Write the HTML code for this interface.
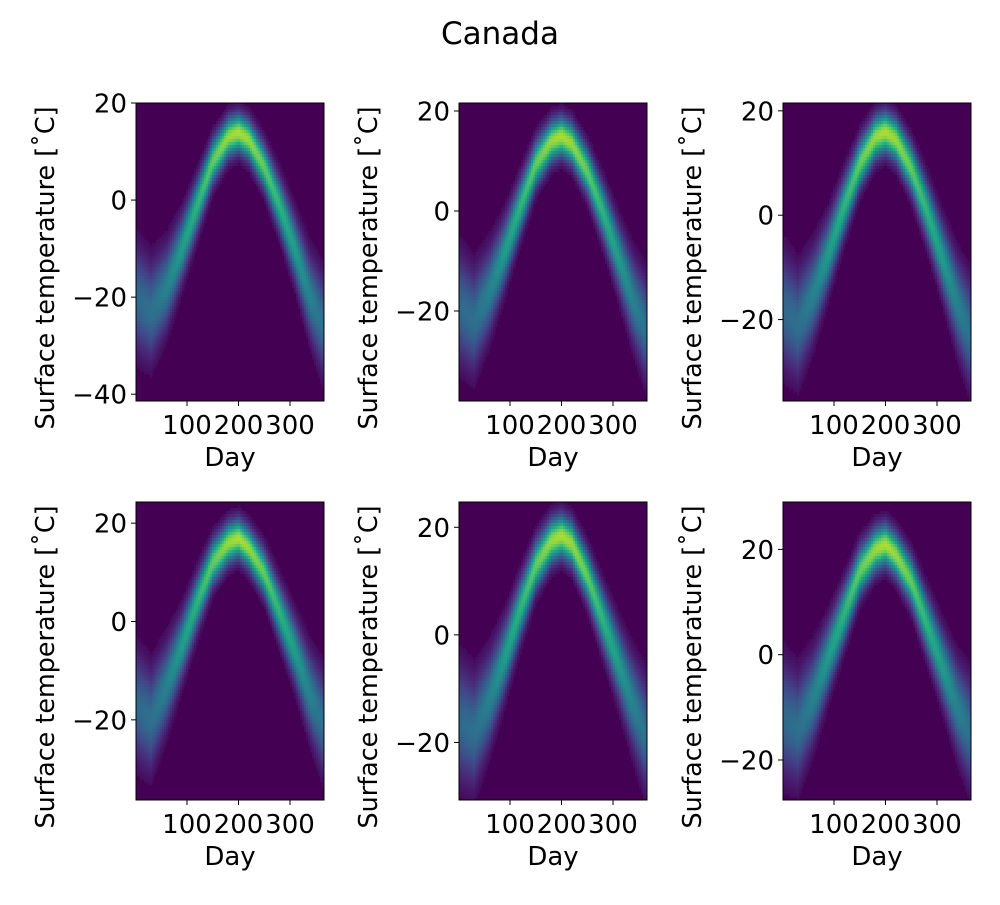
<!DOCTYPE html>
<html><head><meta charset="utf-8"><style>
body{margin:0;background:#fff;}
svg text{font-family:"DejaVu Sans","Liberation Sans",sans-serif;fill:#000;}
</style></head><body>
<svg id="fig" width="1000" height="900" xmlns="http://www.w3.org/2000/svg">
<rect width="1000" height="900" fill="#fff"/>
<text x="500" y="44" font-size="31" text-anchor="middle">Canada</text>
</svg>
<script>
// Shared data
const knotDays = [1, 30, 60, 90, 120, 150, 180, 200, 220, 250, 280, 310, 340, 366];
const spread = [6.5, 6, 5, 4, 3.4, 2.9, 2.6, 2.5, 2.6, 2.9, 3.4, 4, 5, 6];
const center1 = [-20, -23, -18, -10, -1, 8, 13, 14, 12.5, 7, -1, -10, -20, -26];
const center2 = [-19, -22, -16, -8, 1, 9.5, 14, 15, 13.5, 8, 0, -9, -18, -24];
const center3 = [-18, -21, -15, -7, 2, 10, 15, 16, 14.5, 9, 1, -8, -17, -23];
const center4 = [-17, -20, -13, -5, 4, 12, 16, 17, 15, 10, 2, -6, -15, -21];
const center5 = [-16, -18, -12, -4, 5, 13, 17.5, 18.5, 17, 11, 3, -5, -13, -19];
const center6 = [-12, -14, -8, 0, 8, 16, 20, 21, 19, 14, 6, -2, -10, -15];
const yTicks1 = [20, 0, -20, -40];
const yTicks2 = [20, 0, -20];
const xTicks = [100, 200, 300];
const panels = [
 {c:center1, x0:136, y0:103, ymin:-41.4, ymax:20, ticks:yTicks1},
 {c:center2, x0:459, y0:103, ymin:-38, ymax:21.6, ticks:yTicks2},
 {c:center3, x0:783, y0:103, ymin:-35.6, ymax:21.5, ticks:yTicks2},
 {c:center4, x0:136, y0:502, ymin:-36.3, ymax:24.3, ticks:yTicks2},
 {c:center5, x0:459, y0:502, ymin:-30.7, ymax:24.7, ticks:yTicks2},
 {c:center6, x0:783, y0:502, ymin:-27.6, ymax:29, ticks:yTicks2}
];
const W = 188, H = 298, XMIN = 1, XMAX = 366, NX = 94, NY = 100;
const vir = [[68,1,84],[72,36,117],[65,68,135],[53,95,141],[42,120,142],[33,145,140],[34,168,132],[68,191,112],[122,209,81],[189,223,38],[253,231,37]];
function viridis(t){t=Math.max(0,Math.min(1,t));const f=t*10,i=Math.min(9,Math.floor(f)),r=f-i;
 const a=vir[i],b=vir[i+1];return `rgb(${Math.round(a[0]+(b[0]-a[0])*r)},${Math.round(a[1]+(b[1]-a[1])*r)},${Math.round(a[2]+(b[2]-a[2])*r)})`;}
function interp(arr,d){for(let k=0;k<knotDays.length-1;k++){if(d<=knotDays[k+1]){const r=(d-knotDays[k])/(knotDays[k+1]-knotDays[k]);return arr[k]+(arr[k+1]-arr[k])*r;}}return arr[arr.length-1];}
const NS="http://www.w3.org/2000/svg";
const fig=document.getElementById('fig');
function mk(tag,attrs,parent){const e=document.createElementNS(NS,tag);for(const k in attrs)e.setAttribute(k,attrs[k]);parent.appendChild(e);return e;}
panels.forEach((p,pi)=>{
 const g=mk('g',{},fig);
 
 
 const xs=d=>p.x0+(d-XMIN)/(XMAX-XMIN)*W;
 const ys=v=>p.y0+(p.ymax-v)/(p.ymax-p.ymin)*H;
 const bg=mk('rect',{x:p.x0,y:p.y0,width:W,height:H,fill:'#440154'},g);
 
 
 const cells=mk('g',{'shape-rendering':'crispEdges'},g);
 
 
 const dx=(XMAX-XMIN)/NX, dy=(p.ymax-p.ymin)/NY;
 for(let i=0;i<NX;i++){
  const d=XMIN+(i+0.5)*dx, c=interp(p.c,d), s=interp(spread,d);
  const amp=2.2/s;
  for(let j=0;j<NY;j++){
   const v=p.ymin+(j+0.5)*dy, z=(v-c)/s;
   const val=amp*Math.exp(-0.5*z*z);
   if(val<0.03)continue;
   const r=mk('rect',{x:xs(XMIN+i*dx).toFixed(2),y:ys(p.ymin+(j+1)*dy).toFixed(2),width:(W/NX+0.3).toFixed(2),height:(H/NY+0.3).toFixed(2),fill:viridis(val)},cells);
   
   
  }
 }
 const fr=mk('rect',{x:p.x0,y:p.y0,width:W,height:H,fill:'none',stroke:'#000','stroke-width':1},g);
 
 
 p.ticks.forEach(t=>{
  const y=ys(t);
  const l=mk('line',{x1:p.x0-5,x2:p.x0,y1:y,y2:y,stroke:'#000'},g);
  
  
  const tx=mk('text',{x:p.x0-9,y:y+9.5,'font-size':26,'text-anchor':'end'},g);
  tx.textContent=(t<0?'\u2212'+(-t):''+t);
  
  
 });
 xTicks.forEach(t=>{
  const x=xs(t);
  const l=mk('line',{x1:x,x2:x,y1:p.y0+H,y2:p.y0+H+5,stroke:'#000'},g);
  
  
  const tx=mk('text',{x:x,y:p.y0+H+33,'font-size':26,'text-anchor':'middle'},g);
  tx.textContent=''+t;
  
  
 });
 const xl=mk('text',{x:p.x0+W/2,y:p.y0+H+65,'font-size':26,'text-anchor':'middle'},g);
 xl.textContent='Day';
 
 
 const cx=p.x0-82, cy=p.y0+H/2+16;
 const yl=mk('text',{x:cx,y:cy,'font-size':26,'text-anchor':'middle',textLength:323,lengthAdjust:'spacingAndGlyphs',transform:`rotate(-90 ${cx} ${cy})`},g);
 yl.textContent='Surface temperature [\u02DAC]';
 
 
});
</script>
</body></html>
